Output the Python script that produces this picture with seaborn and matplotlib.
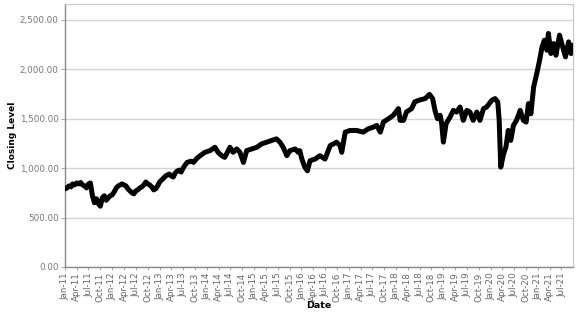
import matplotlib
matplotlib.use("Agg")
import matplotlib.pyplot as plt
import matplotlib.dates as mdates
from matplotlib.ticker import FuncFormatter, FixedLocator
import seaborn as sns
import pandas as pd

dates = [
    "2011-01-01", "2011-01-16", "2011-02-01", "2011-02-16", "2011-03-01", "2011-03-16",
    "2011-04-01", "2011-04-16", "2011-05-01", "2011-05-16", "2011-06-01", "2011-06-16",
    "2011-07-01", "2011-07-16", "2011-08-01", "2011-08-16", "2011-09-01", "2011-09-16",
    "2011-10-01", "2011-10-16", "2011-11-01", "2011-11-16", "2011-12-01", "2011-12-16",
    "2012-01-01", "2012-01-16", "2012-02-01", "2012-02-16", "2012-03-01", "2012-03-16",
    "2012-04-01", "2012-04-16", "2012-05-01", "2012-05-16", "2012-06-01", "2012-06-16",
    "2012-07-01", "2012-07-16", "2012-08-01", "2012-08-16", "2012-09-01", "2012-09-16",
    "2012-10-01", "2012-10-16", "2012-11-01", "2012-11-16", "2012-12-01", "2012-12-16",
    "2013-01-01", "2013-01-16", "2013-02-01", "2013-02-16", "2013-03-01", "2013-03-16",
    "2013-04-01", "2013-04-16", "2013-05-01", "2013-05-16", "2013-06-01", "2013-06-16",
    "2013-07-01", "2013-07-16", "2013-08-01", "2013-09-01", "2013-09-19", "2013-10-16",
    "2013-11-10", "2013-12-16", "2014-01-25", "2014-03-04", "2014-03-28", "2014-04-25",
    "2014-05-19", "2014-06-28", "2014-07-22", "2014-08-19", "2014-09-13", "2014-10-10",
    "2014-11-04", "2014-12-13", "2015-01-22", "2015-02-27", "2015-04-07", "2015-05-16",
    "2015-06-22", "2015-07-19", "2015-08-13", "2015-09-10", "2015-10-04", "2015-11-13",
    "2015-12-07", "2015-12-19", "2016-01-04", "2016-01-28", "2016-02-16", "2016-03-07",
    "2016-04-16", "2016-05-22", "2016-07-01", "2016-08-10", "2016-09-28", "2016-10-25",
    "2016-11-07", "2016-12-04", "2017-01-10", "2017-03-01", "2017-04-22", "2017-06-01",
    "2017-07-10", "2017-08-04", "2017-09-01", "2017-09-25", "2017-11-04", "2017-12-10",
    "2018-01-19", "2018-02-01", "2018-02-27", "2018-03-22", "2018-05-01", "2018-05-25",
    "2018-07-04", "2018-08-13", "2018-09-16", "2018-10-10", "2018-10-28", "2018-11-16",
    "2018-12-07", "2018-12-19", "2019-01-01", "2019-01-22", "2019-02-22", "2019-03-19",
    "2019-04-13", "2019-05-10", "2019-06-04", "2019-07-01", "2019-07-25", "2019-08-19",
    "2019-09-16", "2019-10-10", "2019-11-07", "2019-12-01", "2020-01-10", "2020-02-04",
    "2020-02-25", "2020-03-07", "2020-03-19", "2020-04-10", "2020-04-28", "2020-05-16",
    "2020-06-04", "2020-06-25", "2020-07-19", "2020-08-16", "2020-09-10", "2020-10-01",
    "2020-10-19", "2020-11-07", "2020-11-28", "2020-12-25", "2021-01-13", "2021-02-01",
    "2021-02-19", "2021-03-10", "2021-03-22", "2021-04-10", "2021-05-01", "2021-05-19",
    "2021-06-16", "2021-07-10", "2021-08-01", "2021-08-25", "2021-09-13", "2021-09-25",
]

closing = [
    790, 800, 820, 810, 840, 830,
    850, 840, 855, 830, 820, 800,
    840, 850, 720, 650, 690, 640,
    615, 700, 720, 675, 700, 720,
    730, 760, 800, 820, 830, 840,
    830, 820, 790, 770, 750, 740,
    770, 780, 800, 810, 830, 860,
    840, 830, 810, 780, 790, 820,
    860, 880, 900, 920, 930, 940,
    920, 910, 950, 970, 980, 960,
    1000, 1030, 1058, 1070, 1058, 1100,
    1126, 1160, 1177, 1211, 1160, 1126,
    1109, 1211, 1160, 1194, 1160, 1058,
    1177, 1194, 1211, 1245, 1262, 1279,
    1296, 1262, 1211, 1126, 1177, 1194,
    1160, 1177, 1092, 1007, 973, 1075,
    1092, 1126, 1092, 1228, 1262, 1228,
    1160, 1364, 1381, 1381, 1364, 1398,
    1415, 1432, 1364, 1466, 1500, 1534,
    1602, 1483, 1483, 1568, 1602, 1670,
    1690, 1703, 1746, 1703, 1584, 1500,
    1534, 1450, 1263, 1450, 1517, 1584,
    1567, 1618, 1483, 1584, 1567, 1483,
    1567, 1483, 1601, 1618, 1686, 1703,
    1669, 1483, 1010, 1145, 1212, 1381,
    1280, 1432, 1483, 1584, 1483, 1466,
    1652, 1550, 1821, 1973, 2091, 2226,
    2294, 2193, 2362, 2159, 2260, 2142,
    2345, 2226, 2125, 2277, 2159, 2243,
]

y_ticks = [0, 500, 1000, 1500, 2000, 2500]
x_label = "Date"
y_label = "Closing Level"

df = pd.DataFrame({"Date": pd.to_datetime(dates), "Closing Level": closing})

sns.set_theme(style="white")
plt.rcParams["font.family"] = ["DejaVu Sans"]

fig = plt.figure(figsize=(5.77, 3.15), dpi=100)
ax = fig.add_axes([65 / 577, 1 - 267 / 315, (573 - 65) / 577, (267 - 3.5) / 315])

sns.lineplot(data=df, x="Date", y="Closing Level", ax=ax, color="black",
             linewidth=3.6, solid_joinstyle="round", zorder=3)

ax.set_xlim(pd.Timestamp("2011-01-01"), pd.Timestamp("2021-09-28"))
ax.set_ylim(0, 2665)

ax.yaxis.set_major_locator(FixedLocator(y_ticks))
ax.yaxis.set_major_formatter(FuncFormatter(lambda v, p: f"{v:,.2f}"))
ax.xaxis.set_major_locator(mdates.MonthLocator(bymonth=[1, 4, 7, 10]))
ax.xaxis.set_major_formatter(mdates.DateFormatter("%b-%y"))

ax.grid(axis="y", color="#d4d4d4", linewidth=1.0, zorder=0)
ax.grid(axis="x", visible=False)

for side in ["top", "right"]:
    ax.spines[side].set_color("#c8c8c8")
    ax.spines[side].set_linewidth(0.9)
for side in ["left", "bottom"]:
    ax.spines[side].set_color("#8a8a8a")
    ax.spines[side].set_linewidth(1.0)

ax.tick_params(axis="x", labelsize=6.3, labelcolor="#666666", rotation=90,
               length=2.5, width=0.6, color="#999999", pad=1.5, bottom=True)
ax.tick_params(axis="y", labelsize=6.3, labelcolor="#777777", length=3,
               width=0.6, color="#999999", pad=1.5, left=True)

ax.set_xlabel(x_label, fontsize=6.8, fontweight="bold", color="black")
ax.set_ylabel(y_label, fontsize=6.5, fontweight="bold", color="black")
ax.xaxis.set_label_coords(0.5, -(305 - 267) / 263.5, transform=ax.transAxes)
ax.xaxis.label.set_va("center")
ax.yaxis.set_label_coords((12.7 - 65) / 508, 0.5, transform=ax.transAxes)
ax.yaxis.label.set_va("center")

fig.savefig("out.png", dpi=100)
